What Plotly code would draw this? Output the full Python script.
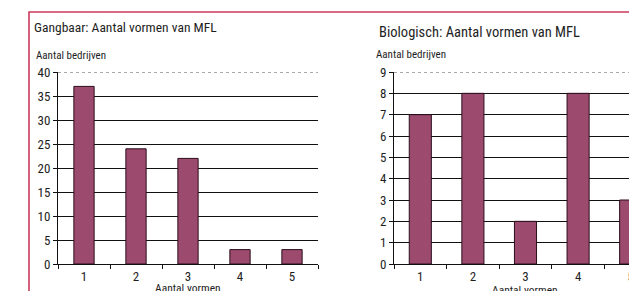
import plotly.graph_objects as go

categories = ["1", "2", "3", "4", "5"]
gangbaar_values = [37, 24, 22, 3, 3]
biologisch_values = [7, 8, 2, 8, 3]
gangbaar_yticks = [0, 5, 10, 15, 20, 25, 30, 35, 40]
biologisch_yticks = [0, 1, 2, 3, 4, 5, 6, 7, 8, 9]

# the page body has an 8px margin; work in window pixels and compensate
OX, OY = 8, 8
W, H = 637 - OX, 291 - OY
FONT = "Roboto Condensed, DejaVu Sans Condensed, sans-serif"
BAR = "#9c4b6f"
EDGE = "#2a0d1a"
FRAME = "#cc3a5c"
TXT = "#1e1e1e"

def px(x):
    return (x - OX) / W

def py(y):
    return 1 - (y - OY) / H

fig = go.Figure()
fig.add_trace(go.Bar(x=categories, y=gangbaar_values, xaxis="x", yaxis="y",
                     marker=dict(color=BAR, line=dict(color=EDGE, width=1)), width=0.39))
fig.add_trace(go.Bar(x=categories, y=biologisch_values, xaxis="x2", yaxis="y2",
                     marker=dict(color=BAR, line=dict(color=EDGE, width=1)), width=0.42))

common_x = dict(type="category", tickson="boundaries", ticks="outside", ticklen=4,
                tickcolor="#111", showline=True, linecolor="#111", linewidth=1,
                showgrid=False, tickfont=dict(family=FONT, size=13, color=TXT),
                zeroline=False, automargin=False, fixedrange=True)
common_y = dict(ticks="outside", ticklen=4, tickcolor="#111", showline=True,
                linecolor="#111", linewidth=1, showgrid=True, gridcolor="#111",
                gridwidth=1, tickfont=dict(family=FONT, size=13, color=TXT),
                zeroline=False, automargin=False, fixedrange=True)

fig.update_layout(
    width=W, height=H, margin=dict(l=0, r=0, t=0, b=0, autoexpand=False),
    paper_bgcolor="white", plot_bgcolor="white", showlegend=False,
    xaxis=dict(domain=[px(58), px(318)], anchor="y", range=[-0.5, 4.5], **common_x),
    yaxis=dict(domain=[py(264), py(72)], anchor="x", range=[0, 40],
               tickvals=gangbaar_yticks, **common_y),
    xaxis2=dict(domain=[px(394), 1.0], anchor="y2", range=[-0.5, 4.12], **common_x),
    yaxis2=dict(domain=[py(264), py(72)], anchor="x2", range=[0, 9],
                tickvals=biologisch_yticks, **common_y),
)

shapes = []
# dotted top gridlines
for xr, yr, top in [("x domain", "y", gangbaar_yticks[-1]), ("x2 domain", "y2", biologisch_yticks[-1])]:
    shapes.append(dict(type="line", xref=xr, yref=yr, x0=0, x1=1, y0=top, y1=top,
                       line=dict(color="white", width=2)))
    shapes.append(dict(type="line", xref=xr, yref=yr, x0=0, x1=1, y0=top, y1=top,
                       line=dict(color="#555", width=1, dash="dot")))
# red frame (top edge and left edge)
shapes.append(dict(type="path", xref="paper", yref="paper",
                   path=f"M {px(29)},0 L {px(29)},{py(12)} L 1,{py(12)}",
                   line=dict(color=FRAME, width=1.6)))
fig.update_layout(shapes=shapes)

ann = [
    dict(text="Gangbaar: Aantal vormen van MFL", x=px(32), y=py(27), xref="paper", yref="paper",
         xanchor="left", yanchor="middle", showarrow=False, font=dict(family=FONT, size=13.5, color=TXT)),
    dict(text="Aantal bedrijven", x=px(34), y=py(56), xref="paper", yref="paper",
         xanchor="left", yanchor="middle", showarrow=False, font=dict(family=FONT, size=11, color=TXT)),
    dict(text="Biologisch: Aantal vormen van MFL", x=px(377), y=py(32), xref="paper", yref="paper",
         xanchor="left", yanchor="middle", showarrow=False, font=dict(family=FONT, size=14.5, color=TXT)),
    dict(text="Aantal bedrijven", x=px(374), y=py(55), xref="paper", yref="paper",
         xanchor="left", yanchor="middle", showarrow=False, font=dict(family=FONT, size=11, color=TXT)),
    dict(text="Aantal vormen", x=2, y=py(279), xref="x", yref="paper",
         xanchor="center", yanchor="top", showarrow=False, font=dict(family=FONT, size=11.5, color=TXT)),
    dict(text="Aantal vormen", x=2, y=py(281), xref="x2", yref="paper",
         xanchor="center", yanchor="top", showarrow=False, font=dict(family=FONT, size=11.5, color=TXT)),
]
fig.update_layout(annotations=ann)

fig.write_html("out.html")
